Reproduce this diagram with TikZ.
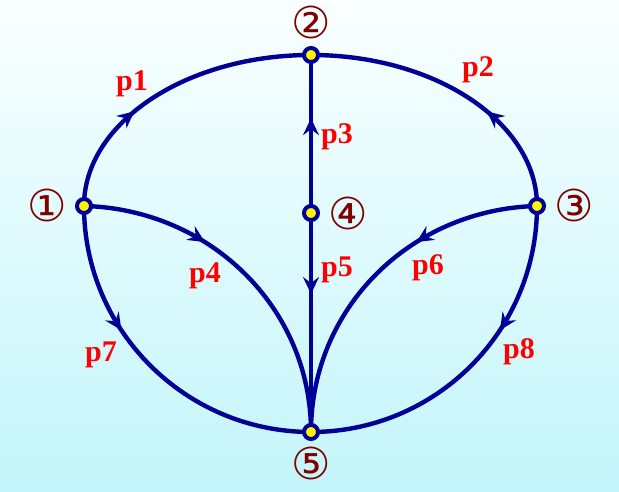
\documentclass[tikz,border=0pt]{standalone}
\usepackage{fontspec}
\setmainfont{Liberation Serif}
\newfontfamily\circfont{DejaVu Sans}
\usetikzlibrary{arrows.meta,decorations.markings}
\definecolor{edgeblue}{RGB}{0,0,150}
\definecolor{numred}{RGB}{128,0,0}
\definecolor{bgtop}{RGB}{250,255,255}
\definecolor{bgbot}{RGB}{195,245,250}

\begin{document}
\begin{tikzpicture}[
  x=0.5pt, y=0.5pt,
  vtx/.style={
    circle, draw=edgeblue, fill=yellow, line width=2pt,
    minimum size=7pt, inner sep=0pt
  },
  num/.style={font=\circfont\fontsize{22}{22}\selectfont, text=numred, inner sep=0pt},
  lbl/.style={font=\bfseries\fontsize{15}{15}\selectfont, text=red, inner sep=0pt},
  edge/.style={draw=edgeblue, line width=2.2pt},
  midarrow/.style={postaction={decorate, decoration={markings,
    mark=at position #1 with {\arrow{Stealth[length=8.5pt, width=8pt, inset=3pt]}}}}},
]

\shade[top color=bgtop, bottom color=bgbot] (0,0) rectangle (619,491);
\useasboundingbox (0,0) rectangle (619,491);

\coordinate (n1) at (84,285);
\coordinate (n2) at (311,436);
\coordinate (n3) at (537,285);
\coordinate (n4) at (311,278);
\coordinate (n5) at (311,59);

\draw[edge, midarrow=0.37] (n1) .. controls +(0,83) and +(-125,0) .. (n2);
\draw[edge, midarrow=0.37] (n3) .. controls +(0,83) and +(125,0) .. (n2);
\draw[edge, midarrow=0.6]  (n4) -- (n2);
\draw[edge, midarrow=0.36] (n1) .. controls +(125,-3) and +(0,125) .. (n5);
\draw[edge, midarrow=0.37] (n4) -- (n5);
\draw[edge, midarrow=0.36] (n3) .. controls +(-125,-3) and +(0,125) .. (n5);
\draw[edge, midarrow=0.37] (n1) .. controls +(0,-125) and +(-125,0) .. (n5);
\draw[edge, midarrow=0.37] (n3) .. controls +(0,-125) and +(125,0) .. (n5);

\node[vtx] (v1) at (n1) {};
\node[vtx] (v2) at (n2) {};
\node[vtx] (v3) at (n3) {};
\node[vtx] (v4) at (n4) {};
\node[vtx] (v5) at (n5) {};

\node[num] (c1) at (47,286)  {①};
\node[num] (c2) at (311,469) {②};
\node[num] (c3) at (574,286) {③};
\node[num] (c4) at (348,278) {④};
\node[num] (c5) at (311,28)  {⑤};

\node[lbl] (l1) at (132,407) {p1};
\node[lbl] (l2) at (478,421) {p2};
\node[lbl] (l3) at (337,354) {p3};
\node[lbl] (l4) at (205,215) {p4};
\node[lbl] (l5) at (337,221) {p5};
\node[lbl] (l6) at (428,223) {p6};
\node[lbl] (l7) at (101,136) {p7};
\node[lbl] (l8) at (519,139) {p8};

\end{tikzpicture}
\end{document}
